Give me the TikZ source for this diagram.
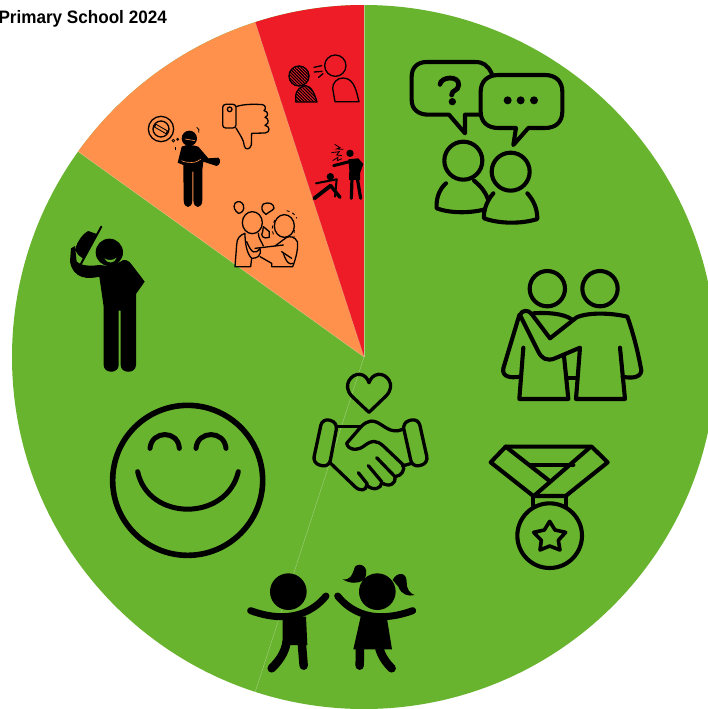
\documentclass[tikz,border=0pt]{standalone}
\usepackage{fontspec}
\setmainfont{Liberation Sans}
\usetikzlibrary{patterns.meta}
\definecolor{pgreen}{HTML}{68B42E}
\definecolor{porange}{HTML}{FF914D}
\definecolor{pred}{HTML}{EE1C27}
\tikzset{
  slice/.style={draw=white,draw opacity=.45,line width=.3pt},
  ico/.style={draw=black,line width=4.1pt,line cap=round,line join=round},
  icothin/.style={draw=black,line width=1.3pt,line cap=round,line join=round},
  hand/.style={icothin,line width=3.3pt},
  hatch/.style={pattern={Lines[angle=-45,distance=2.2pt,line width=1.1pt]},pattern color=black},
  limb/.style={draw=black,line cap=round,line join=round},
  zoomA/.style={shift={(400,50)},scale=1/3},
  zoomB/.style={shift={(240,360)},scale=1/3},
  zoomC/.style={shift={(60,220)},scale=1/3},
  zoomD/.style={shift={(140,0)},scale=1/3},
}
\begin{document}
\begin{tikzpicture}[x=1pt,y=-1pt]
\useasboundingbox (0,0) rectangle (708,709);
\clip (0,0) rectangle (708,709);
\fill[white] (0,0) rectangle (708,709);
\coordinate (c) at (364,357);
% pie: screen angle t -> tikz angle -t on the flipped y axis
\fill[pgreen] (c) circle[radius=352];
\fill[porange] (c) -- ++(-144.3:352) arc[start angle=-144.3,end angle=-108,radius=352] -- cycle;
\fill[pred] (c) -- ++(-108:352) arc[start angle=-108,end angle=-90,radius=352] -- cycle;
\draw[slice] (c) -- ++(-90:352);
\draw[slice] (c) -- ++(-108:352);
\draw[slice] (c) -- ++(-144.3:352);
\draw[slice] (c) -- ++(-252:352);
\node[anchor=east,inner sep=0pt,font=\bfseries\fontsize{18}{18}\selectfont,xscale=.95] (title) at (167,18.5) {Primary School 2024};

% --- speech bubbles
\begin{scope}[zoomA]
\draw[ico] (275,70) .. controls (262,45) and (250,36) .. (225,36) -- (80,36) .. controls (50,36) and (35,55) .. (35,80) -- (35,150) .. controls (35,178) and (55,194) .. (85,194) -- (147,194) -- (195,250) -- (195,194) -- (240,194);
\draw[ico,fill=pgreen] (295,75) -- (435,75) .. controls (468,75) and (487,95) .. (487,125) -- (487,185) .. controls (487,215) and (468,234) .. (435,234) -- (385,234) -- (340,285) -- (348,234) -- (295,234) .. controls (262,234) and (242,215) .. (242,185) -- (242,125) .. controls (242,95) and (262,75) .. (295,75) -- cycle;
\draw[draw=black,line width=4.8pt,line cap=round] (120,103) .. controls (122,80) and (178,75) .. (176,105) .. controls (175,125) and (155,118) .. (155,135);
\fill (157,155) circle[radius=11];
\fill (323,151) circle[radius=12];
\fill (362,151) circle[radius=12];
\fill (402,151) circle[radius=12];
\draw[ico] (190,332) circle[radius=57];
\draw[ico] (138,400) .. controls (115,420) and (108,450) .. (110,475) .. controls (150,490) and (210,490) .. (255,478);
\draw[ico] (222,392) .. controls (245,410) and (258,430) .. (265,450);
\draw[ico] (332,365) circle[radius=57];
\draw[ico] (280,430) .. controls (262,450) and (250,480) .. (252,505) .. controls (300,522) and (365,522) .. (412,507) .. controls (412,475) and (400,450) .. (382,430);
\end{scope}

% --- embracing pair
\begin{scope}[zoomA]
\draw[ico] (442,716) circle[radius=53];
\draw[ico] (600,716) circle[radius=53];
\draw[ico] (358,795) -- (310,955) .. controls (305,980) and (330,985) .. (360,980);
\draw[ico] (370,893) -- (358,1047) -- (505,1047) -- (492,918);
\draw[ico] (400,790) .. controls (440,787) and (490,790) .. (515,808);
\draw[ico] (505,985) -- (530,985);
\draw[ico] (360,795) .. controls (365,780) and (385,778) .. (395,792) -- (450,865) -- (530,802) .. controls (570,785) and (640,790) .. (682,800) .. controls (700,850) and (715,910) .. (724,962) .. controls (722,985) and (690,985) .. (668,980);
\draw[ico] (660,893) -- (675,1047) -- (528,1047) -- (540,893) -- (465,925) .. controls (440,935) and (425,925) .. (415,905) -- (360,795);
\end{scope}

% --- medal
\begin{scope}[zoomB]
\draw[ico] (752,307) -- (797,260) -- (1055,260) -- (1103,307) -- (977,408) -- (880,408) -- cycle;
\draw[ico] (797,260) -- (925,360);
\draw[ico] (1050,262) -- (885,405);
\draw[ico] (872,315) -- (1000,315);
\draw[ico] (880,408) -- (880,440);
\draw[ico] (978,408) -- (978,440);
\draw[ico] (929,527) circle[radius=97];
\draw[ico,line width=3.6pt] (929,484) -- (945,510) -- (977,517) -- (955,541) -- (960,570) -- (929,558) -- (900,570) -- (904,541) -- (881,517) -- (913,510) -- cycle;
\end{scope}

% --- heart and handshake
\begin{scope}[zoomB]
\draw[hand] (387,157) -- (335,108) .. controls (305,75) and (335,40) .. (360,43) .. controls (375,45) and (382,55) .. (387,68) .. controls (392,55) and (400,45) .. (415,43) .. controls (440,40) and (470,75) .. (438,108) -- cycle;
\draw[hand,rounded corners=7pt] (247,175) -- (293,187) -- (267,322) -- (218,310) -- cycle;
\draw[hand,rounded corners=7pt] (487,187) -- (535,175) -- (565,310) -- (517,322) -- cycle;
\draw[hand] (290,200) -- (362,200);
\draw[hand] (487,208) .. controls (465,218) and (450,212) .. (425,195) .. controls (400,178) and (385,180) .. (365,198) -- (320,250) .. controls (325,272) and (355,272) .. (372,258) .. controls (395,240) and (410,240) .. (430,258) -- (490,315) .. controls (495,330) and (485,348) .. (465,350) .. controls (470,368) and (450,385) .. (425,368) .. controls (425,385) and (400,395) .. (380,375) .. controls (380,392) and (360,395) .. (345,380) -- (272,310);
\draw[hand] (410,293) -- (465,350);
\draw[hand] (385,317) -- (425,365);
\draw[hand] (355,338) -- (382,372);
\draw[hand] (487,318) -- (515,310);
\end{scope}

% --- children
\begin{scope}[zoomB]
\fill (145,695) circle[radius=55];
\fill (412,695) circle[radius=55];
\draw[limb,line width=7pt] (32,752) .. controls (95,775) and (190,790) .. (258,708);
\draw[limb,line width=7pt] (293,708) .. controls (360,790) and (455,775) .. (518,752);
\fill (128,770) -- (198,770) -- (202,855) -- (128,855) -- cycle;
\draw[limb,line width=8.5pt] (140,845) .. controls (135,880) and (115,905) .. (95,925);
\draw[limb,line width=8.5pt] (185,845) -- (191,917);
\fill (362,770) -- (440,770) -- (456,868) -- (340,868) -- cycle;
\draw[limb,line width=8.5pt] (360,865) -- (359,917);
\draw[limb,line width=8.5pt] (418,865) .. controls (425,890) and (440,910) .. (455,925);
\fill (375,655) .. controls (390,620) and (360,605) .. (345,620) .. controls (335,650) and (330,660) .. (308,658) .. controls (330,672) and (355,670) .. (368,662) -- cycle;
\fill (458,660) .. controls (470,635) and (500,635) .. (500,665) .. controls (500,690) and (510,700) .. (524,705) .. controls (505,710) and (485,705) .. (475,680) -- cycle;
\end{scope}

% --- smiley
\begin{scope}[zoomC]
\draw[draw=black,line width=5.6pt] (383,781) circle[radius=225];
\draw[limb,line width=5pt] (270,685) .. controls (275,630) and (355,630) .. (358,685);
\draw[limb,line width=5pt] (408,685) .. controls (413,630) and (493,630) .. (498,685);
\draw[limb,line width=5pt] (233,755) .. controls (265,905) and (500,905) .. (535,755);
\end{scope}

% --- man tipping a hat
\begin{scope}[zoomC]
\fill (148,97) circle[radius=41];
\fill[pgreen] (133,115) .. controls (145,122) and (158,122) .. (170,113) .. controls (165,132) and (140,132) .. (133,115) -- cycle;
\fill (190,120) .. controls (205,118) and (212,130) .. (220,140) -- (254,185) -- (228,222) -- (228,260) -- (228,435) .. controls (228,462) and (182,462) .. (182,435) -- (182,272) -- (176,272) -- (176,435) .. controls (176,462) and (131,462) .. (131,435) -- (131,260) -- (118,170) .. controls (85,178) and (40,178) .. (30,125) -- (33,85) -- (45,78) -- (50,125) .. controls (60,135) and (85,140) .. (118,135) .. controls (130,135) and (150,145) .. (190,120) -- cycle;
\fill (45,90) .. controls (52,62) and (70,40) .. (85,33) -- (110,42) -- (72,118) -- (55,105) -- cycle;
\draw[limb,line width=2pt] (124,20) -- (62,133);
\end{scope}

% --- thumbs down
\begin{scope}[zoomD]
\draw[icothin,rounded corners=3pt] (248,313) rectangle (288,384);
\draw[icothin] (269,328) circle[radius=7];
\draw[icothin] (288,320) .. controls (310,312) and (345,312) .. (368,314) .. controls (378,316) and (378,328) .. (372,332) .. controls (385,334) and (387,348) .. (375,352) .. controls (385,354) and (390,370) .. (375,376) .. controls (390,378) and (392,398) .. (375,399) -- (335,400) -- (334,435) .. controls (330,450) and (315,450) .. (313,438) .. controls (312,420) and (300,405) .. (288,384);
\end{scope}

% --- sick man, no sign
\begin{scope}[zoomD]
\draw[icothin] (63,387) circle[radius=38];
\draw[icothin] (63,387) circle[radius=24];
\fill[rotate around={-30:(63,387)}] (41,381) rectangle (85,393);
\fill[porange,rotate around={-30:(63,387)}] (45,384) rectangle (81,390);
\draw[line width=.8pt] (100,422) circle[radius=4];
\draw[line width=.8pt] (113,418) circle[radius=3];
\draw[line width=.8pt] (106,450) -- (106,442);
\draw[line width=.8pt] (170,382) .. controls (178,385) and (178,392) .. (176,398);
\fill (148,415) circle[radius=23];
\draw[porange,line width=.6pt] (135,417) -- (165,422);
\fill (125,440) .. controls (140,432) and (160,435) .. (175,440) -- (205,475) -- (235,473) .. controls (245,480) and (240,495) .. (230,498) -- (190,485) -- (187,510) -- (187,600) .. controls (187,628) and (160,628) .. (160,600) -- (160,515) -- (157,515) -- (157,600) .. controls (157,628) and (131,628) .. (131,600) -- (130,495) -- (113,488) -- cycle;
\draw[porange,line width=.6pt] (125,482) .. controls (140,490) and (170,490) .. (182,478);
\end{scope}

% --- quarrelling couple
\begin{scope}[zoomD]
\draw[icothin] (337,668) ellipse[x radius=30,y radius=33];
\draw[icothin] (433,678) ellipse[x radius=30,y radius=34];
\draw[icothin] (285,800) -- (332,800) -- (335,775) .. controls (320,760) and (315,730) .. (315,700) .. controls (300,705) and (290,715) .. (290,735) -- cycle;
\draw[icothin] (320,725) .. controls (335,760) and (345,765) .. (360,745) .. controls (365,770) and (350,775) .. (335,775);
\draw[icothin] (345,745) -- (430,735);
\draw[icothin] (355,700) .. controls (355,715) and (365,725) .. (370,738);
\draw[icothin] (360,770) -- (395,790) -- (395,800) -- (458,800) .. controls (470,770) and (475,740) .. (472,725) .. controls (465,710) and (450,708) .. (440,712) -- (405,738);
\draw[icothin] (430,760) .. controls (440,790) and (450,795) .. (458,790);
\draw[icothin] (425,755) -- (455,775);
\draw[icothin] (370,680) -- (388,695) -- (388,712) .. controls (370,718) and (360,708) .. (368,695) -- cycle;
\draw[icothin] (285,610) .. controls (295,600) and (305,605) .. (310,615) .. controls (315,630) and (305,640) .. (295,640) .. controls (285,632) and (278,622) .. (285,610) -- cycle;
\draw[icothin] (370,612) .. controls (385,605) and (402,610) .. (402,625) .. controls (395,635) and (385,635) .. (378,643) .. controls (365,635) and (362,622) .. (370,612) -- cycle;
\draw[line width=.9pt,dashed] (405,660) .. controls (395,675) and (395,690) .. (402,710);
\draw[line width=.9pt,dashed] (440,632) .. controls (455,635) and (468,645) .. (470,655);
\draw[line width=.9pt,dashed] (463,690) -- (462,712);
\end{scope}

% --- verbal abuse
\begin{scope}[zoomD]
\begin{scope}
\clip (477,228) circle[radius=31];
\fill[hatch] (440,190) rectangle (515,265);
\end{scope}
\begin{scope}
\clip (467,306) -- (467,290) .. controls (468,268) and (485,257) .. (497,257) .. controls (515,258) and (525,285) .. (531,306) -- cycle;
\fill[hatch] (460,250) rectangle (535,310);
\end{scope}
\draw[icothin] (477,228) circle[radius=30];
\draw[icothin] (467,306) -- (467,290) .. controls (468,268) and (485,257) .. (497,257) .. controls (515,258) and (525,285) .. (531,306) -- cycle;
\draw[icothin] (586,197) circle[radius=32];
\draw[icothin] (596,305) -- (657,305) .. controls (650,280) and (645,235) .. (610,234) .. controls (590,233) and (578,250) .. (578,265) -- (585,305) -- cycle;
\draw[icothin] (522,202) -- (545,197);
\draw[icothin] (523,216) -- (546,214);
\draw[icothin] (536,232) -- (549,221);
\end{scope}

% --- assault
\begin{scope}[zoomD]
\fill (630,460) circle[radius=11];
\draw[limb,line width=3pt] (581,497) -- (640,482);
\fill (625,478) -- (655,475) -- (670,492) -- (660,520) -- (660,540) -- (627,540) -- (628,510) -- cycle;
\draw[limb,line width=3.2pt] (636,535) -- (634,595);
\draw[limb,line width=3.2pt] (652,535) -- (662,595);
\fill (571,530) circle[radius=11];
\draw[limb,line width=3.8pt] (523,595) -- (572,557);
\draw[limb,line width=3.4pt] (572,557) -- (600,592);
\draw[limb,line width=2pt] (528,550) -- (590,538);
\draw[limb,line width=2pt] (590,538) -- (585,590);
\draw[line width=.8pt] (584,433) -- (600,443) -- (590,447) -- (610,448);
\draw[line width=.8pt] (574,458) -- (598,455) -- (590,465) -- (606,467);
\draw[line width=.8pt] (578,482) -- (594,472) -- (592,482) -- (606,476);
\end{scope}
\end{tikzpicture}
\end{document}
